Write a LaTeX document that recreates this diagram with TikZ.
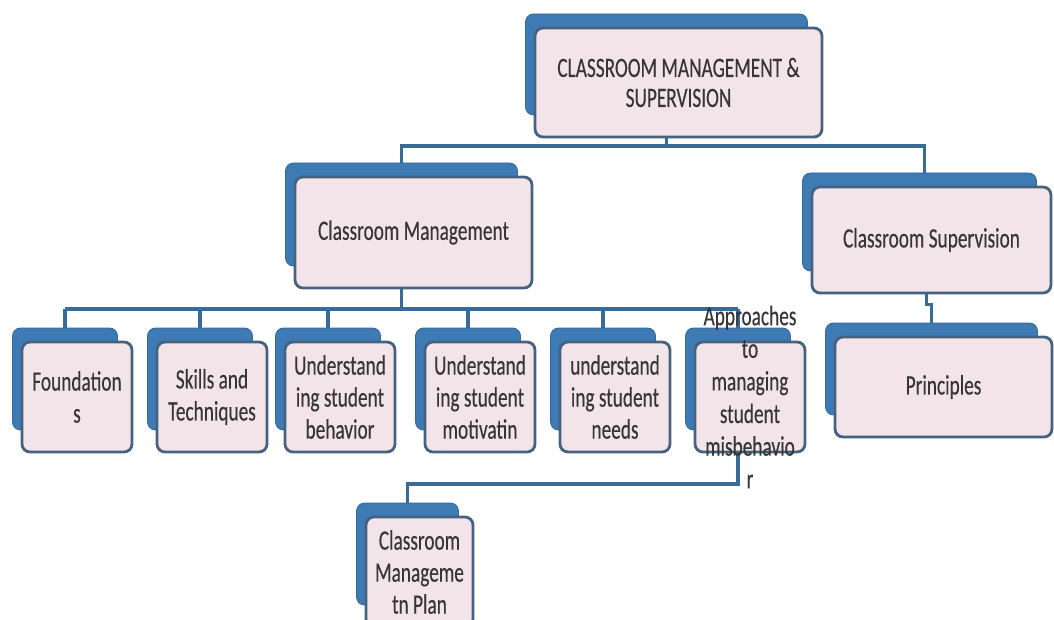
\documentclass[tikz,border=0pt]{standalone}
\usepackage{fontspec}
\setmainfont{Carlito}[FakeStretch=0.69,FakeBold=0.3]
\usetikzlibrary{calc,
                backgrounds}

\definecolor{cardblue}{HTML}{3E7AB4}
\definecolor{cardpink}{HTML}{F3E4E9}
\definecolor{cardedge}{HTML}{46627F}
\definecolor{linkblue}{HTML}{3A6B95}
\definecolor{cardink}{HTML}{363636}

\tikzset{
  backcard/.style={draw=cardblue!85!black, line width=0.8pt, fill=cardblue,
                   rounded corners=8pt, inner sep=0pt},
  frontcard/.style={draw=cardedge, line width=2.8pt, fill=cardpink,
                    rounded corners=8pt, inner sep=0pt, align=center,
                    text=cardink, font=\fontsize{28}{32}\selectfont},
  cardlabel/.style={inner sep=0pt, align=center, text=cardink,
                    font=\fontsize{28}{32.6}\selectfont},
  link/.style={draw=linkblue, line width=3.2pt},
}

% back card up-left of the front card
\newcommand{\cardpair}[5]{%
  \node[backcard, minimum width=#3pt-5pt, minimum height=#4pt-8pt]
    (#1-back) at ($#2+(-12,-18)$) {};
  \node[frontcard, minimum width=#3pt, minimum height=#4pt] (#1) at #2 {#5};
}

\begin{document}
\begin{tikzpicture}[x=1pt, y=-1pt]
 \useasboundingbox (0,0) rectangle (1054,620);

 \cardpair{top}{(678.5,82.5)}{287}{109}{CLASSROOM MANAGEMENT \&\\[-2pt]SUPERVISION}
 \cardpair{mgmt}{(413.5,232.5)}{237}{111}{Classroom Management}
 \cardpair{supv}{(931.5,240)}{239}{106}{Classroom Supervision}
 \cardpair{prin}{(943.5,387)}{217}{100}{Principles}

 \foreach \nm/\cx/\txt in {found/77/{Foundation\\s},
                           skill/212/{Skills and\\Techniques},
                           behav/340/{Understand\\ing student\\behavior},
                           motiv/480/{Understand\\ing student\\motivatin},
                           needs/615/{understand\\ing student\\needs},
                           appr/750/{}}
   {\cardpair{\nm}{(\cx,397)}{110}{110}{\txt}}
 \node[cardlabel] (appr-text) at (appr.center)
   {Approaches\\to\\managing\\student\\misbehavio\\r};

 \cardpair{plan}{(419.5,572)}{107}{110}{Classroom\\Manageme\\tn Plan}

 \coordinate (busA) at (0,146);
 \coordinate (busB) at (0,309);
 \coordinate (busC) at (0,484);
 \coordinate (supv-drop) at ($(supv-back.north)+(5,0)$);

 \begin{scope}[on background layer]
  \draw[link] (top-back.center |- top.south) -- (top-back.center |- busA);
  \draw[link] (mgmt-back.north) -- (mgmt-back.north |- busA)
              -- (supv-drop |- busA) -- (supv-drop);
  \draw[link] ($(supv.south)+(-5,0)$) -- ++(0,10) -| (prin-back.north);

  \draw[link] (mgmt-back.center |- mgmt.south) -- (mgmt-back.center |- busB);
  \draw[link] (found-back.north |- busB) -- (appr-back.north |- busB);
  \foreach \nm in {found,skill,behav,motiv,needs,appr}
    \draw[link] (\nm-back.north |- busB) -- (\nm-back.north);

  \draw[link] (appr-back.center |- appr.south) -- (appr-back.center |- busC)
              -- (plan-back.north |- busC) -- (plan-back.north);
 \end{scope}
\end{tikzpicture}
\end{document}
